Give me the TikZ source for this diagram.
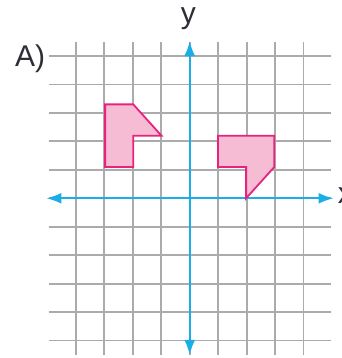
\documentclass[tikz,border=0pt]{standalone}
\usepackage{fontspec}
\setmainfont{Liberation Sans}
\usetikzlibrary{arrows.meta}
\definecolor{gridgray}{HTML}{ABABAB}
\definecolor{axisblue}{HTML}{1AAEE6}
\definecolor{shapefill}{HTML}{F6BCD3}
\definecolor{shapeline}{HTML}{E8237E}
\definecolor{labeltext}{HTML}{2E2E36}
\tikzset{
  gridline/.style={draw=gridgray, line width=1.8pt},
  axisline/.style={draw=axisblue, line width=1.8pt, {Latex[length=15pt,width=11pt]}-{Latex[length=15pt,width=11pt]}},
  figshape/.style={draw=shapeline, fill=shapefill, line width=1.8pt, line join=miter},
  lbl/.style={font=\fontsize{30}{30}\selectfont, text=labeltext, inner sep=0pt}
}
\begin{document}
\begin{tikzpicture}[x=1pt,y=1pt]
\useasboundingbox (0,0) rectangle (341,358);
\begin{scope}[shift={(189.7,159.7)}, x=28.2pt, y=31.3pt]
  \draw[gridline] (-5,-5) grid (5,5);
  \coordinate (xl) at (-5.08,0);
  \coordinate (xr) at (5.1,0);
  \coordinate (yt) at (0,5.02);
  \coordinate (yb) at (0,-5.0);
  \draw[axisline] (xl) -- (xr);
  \draw[axisline] (yb) -- (yt);
  \draw[figshape] (-3,3) -- (-2,3) -- (-1,2) -- (-2,2) -- (-2,1) -- (-3,1) -- cycle;
  \draw[figshape] (1,2) -- (3,2) -- (3,1) -- (2,0) -- (2,1) -- (1,1) -- cycle;
  \node[lbl, anchor=west] (xlabel) at (5.25,0.08) {x};
  \node[lbl, anchor=base] (ylabel) at (-0.05,5.57) {y};
\end{scope}
\node[lbl, anchor=base west] (alabel) at (15,291) {A)};
\end{tikzpicture}
\end{document}
